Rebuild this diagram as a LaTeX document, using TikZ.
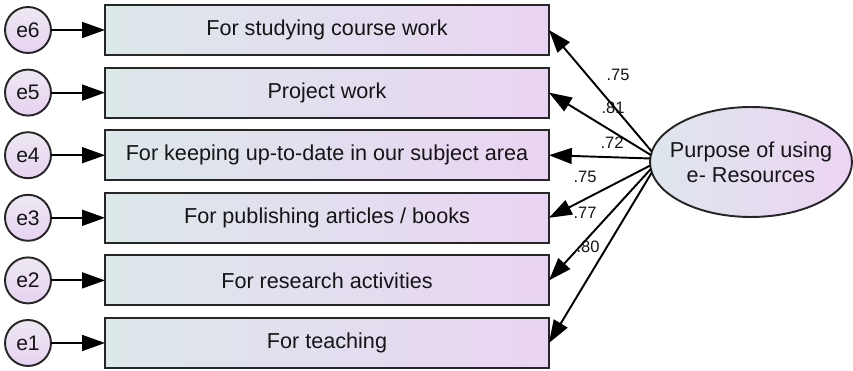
\documentclass[tikz,border=0pt]{standalone}
\usepackage{fontspec}
\setmainfont{Liberation Sans}
\usetikzlibrary{arrows.meta,shapes.geometric}

\definecolor{boxleft}{HTML}{DCE8EA}
\definecolor{boxright}{HTML}{EAD4F3}
\definecolor{errlow}{HTML}{E6D2F1}
\definecolor{errhigh}{HTML}{EEE8F2}
\definecolor{latleft}{HTML}{DEE6EC}
\definecolor{latright}{HTML}{ECD4F4}
\definecolor{ink}{HTML}{151515}

\begin{document}
\begin{tikzpicture}[x=0.02cm,y=-0.02cm,
    obs/.style={draw=black!85, line width=1.1pt, minimum width=8.88cm, minimum height=1cm,
        left color=boxleft, right color=boxright, text=ink,
        font=\fontsize{12.3}{14}\selectfont, outer sep=0pt},
    err/.style={circle, draw=black!85, line width=1.1pt, minimum size=0.92cm, inner sep=0pt,
        bottom color=errlow, top color=errhigh, text=ink,
        font=\fontsize{12}{14}\selectfont, outer sep=0pt},
    regarrow/.style={-{Triangle[length=13pt,width=9pt]}, line width=1.1pt, black},
    coef/.style={font=\fontsize{9.4}{11}\selectfont, text=ink, inner sep=0pt}]
    \useasboundingbox (0,0) rectangle (853,371);

    % Observed items
    \node[obs] (v6) at (327,30)    {For studying course work};
    \node[obs] (v5) at (327,92.6)  {Project work};
    \node[obs] (v4) at (327,155.2) {For keeping up-to-date in our subject area};
    \node[obs] (v3) at (327,217.8) {For publishing articles / books};
    \node[obs] (v2) at (327,280.4) {For research activities};
    \node[obs] (v1) at (327,343)   {For teaching};

    % Error terms
    \node[err] (e6) at (28,30)    {e6};
    \node[err] (e5) at (28,92.6)  {e5};
    \node[err] (e4) at (28,155.2) {e4};
    \node[err] (e3) at (28,217.8) {e3};
    \node[err] (e2) at (28,280.4) {e2};
    \node[err] (e1) at (28,343)   {e1};

    \draw[regarrow] (e6) -- (v6);
    \draw[regarrow] (e5) -- (v5);
    \draw[regarrow] (e4) -- (v4);
    \draw[regarrow] (e3) -- (v3);
    \draw[regarrow] (e2) -- (v2);
    \draw[regarrow] (e1) -- (v1);

    % Latent factor (negative xsep keeps the ellipse at its set size)
    \node[ellipse, draw=black!85, line width=1.1pt, minimum width=4.04cm, minimum height=2.2cm,
        inner xsep=-10pt, inner ysep=0pt,
        left color=latleft, right color=latright, text=ink, align=center, outer sep=0pt,
        font=\fontsize{12.3}{14}\selectfont] (purpose) at (751,162)
        {Purpose of using\\e- Resources};

    % Loadings
    \node[coef] (c6) at (618,75)  {.75};
    \node[coef] (c5) at (613,108) {.81};
    \node[coef] (c4) at (612,143) {.72};
    \node[coef] (c3) at (585,177) {.75};
    \node[coef] (c2) at (585,213) {.77};
    \node[coef] (c1) at (588,247) {.80};

    \draw[regarrow] (purpose.174) -- (v6.east);
    \draw[regarrow] (purpose.176) -- (v5.east);
    \draw[regarrow] (purpose.178) -- (v4.east);
    \draw[regarrow] (purpose.182) -- (v3.east);
    \draw[regarrow] (purpose.184) -- (v2.east);
    \draw[regarrow] (purpose.186) -- (v1.east);
\end{tikzpicture}
\end{document}
